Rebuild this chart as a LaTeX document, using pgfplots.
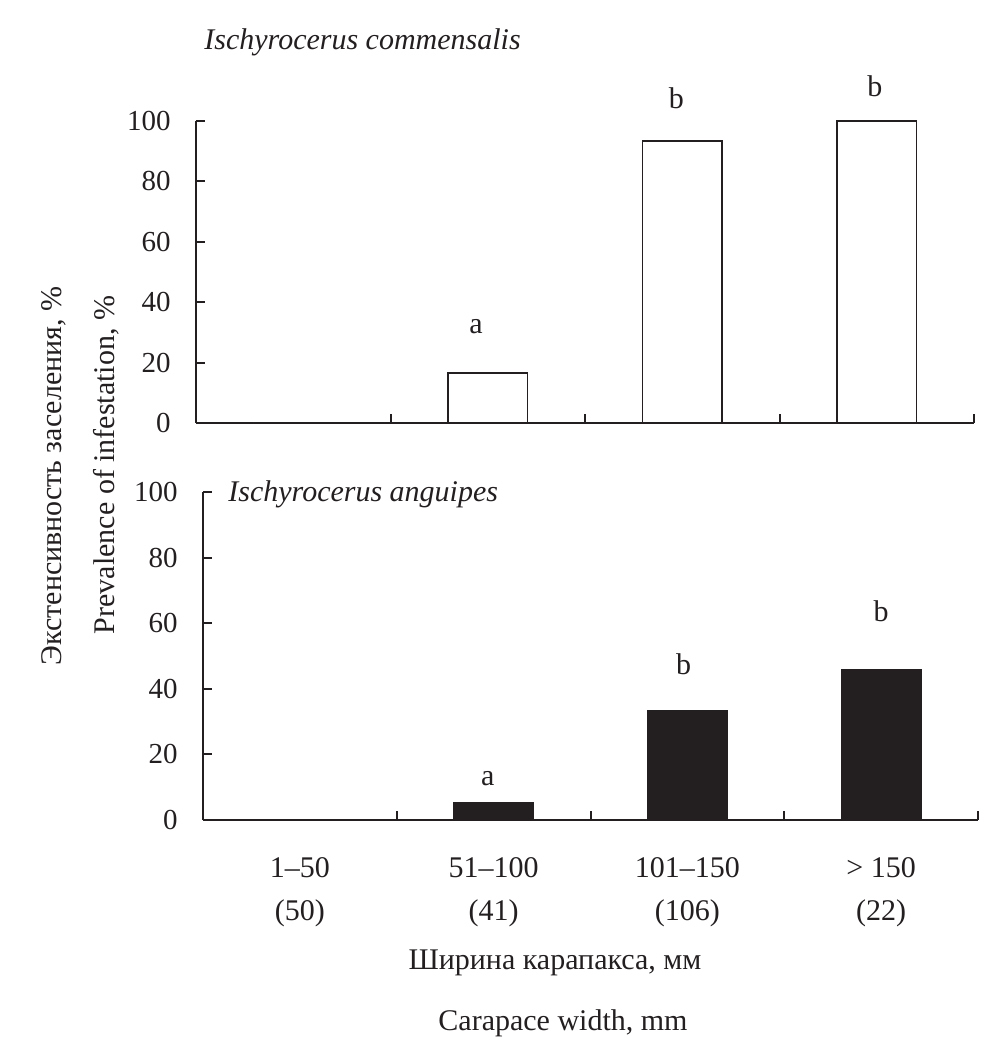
\documentclass[border=0pt]{standalone}
\usepackage{pgfplots}
\pgfplotsset{compat=1.18}
\usepackage{fontspec}
\setmainfont{Liberation Serif}
\definecolor{ink}{HTML}{231F20}
\begin{document}
\fontsize{15}{18}\selectfont
\begin{tikzpicture}
\useasboundingbox (0,0) rectangle (491pt,519.5pt);
\pgfplotsset{
 panel/.style={
  scale only axis, xmin=0, xmax=4, ymin=0, ymax=100,
  axis x line=bottom, axis y line=left,
  axis line style={-, ink, line width=1pt},
  ytick={0,20,...,100}, xtick={1,2,3,4}, xticklabels={},
  tick align=inside,
  major tick length=4.5pt,
  tick style={ink, line width=1pt},
  x tick style={yshift=4.5pt},
  /pgf/number format/assume math mode=true,
  ticklabel style={font=\fontsize{14.5}{17}\selectfont, text=ink},
  yticklabel style={xshift=-7.5pt},
  clip=false, ybar, bar width=0.41,
 }
}
% top panel
\begin{axis}[panel, width=389pt, height=151pt, at={(98pt,308pt)}, anchor=south west]
\addplot[draw=ink, fill=white, line width=0.8pt] coordinates {(0.5,0) (1.5,16.6) (2.5,93.4) (3.5,100)};
\node[text=ink] at (axis cs:1.44,31.8) {a};
\node[text=ink] at (axis cs:2.47,107.5) {b};
\node[text=ink] at (axis cs:3.49,111.5) {b};
\end{axis}
% bottom panel
\begin{axis}[panel, width=387.5pt, height=164pt, at={(101.5pt,109.5pt)}, anchor=south west,
  extra x ticks={0.5,1.5,2.5,3.5},
  extra x tick labels={{1–50\\(50)},{51–100\\(41)},{101–150\\(106)},{> 150\\(22)}},
  extra x tick style={major tick length=0pt,
    xticklabel style={align=center, font=\fontsize{15}{21.5}\selectfont, yshift=-13.5pt}}]
\addplot[draw=ink, fill=ink, line width=0.8pt] coordinates {(0.5,0) (1.5,5.2) (2.5,33.2) (3.5,45.7)};
\node[text=ink] at (axis cs:1.47,12.5) {a};
\node[text=ink] at (axis cs:2.48,47.5) {b};
\node[text=ink] at (axis cs:3.50,63.5) {b};
\end{axis}
% titles
\node[anchor=base west, text=ink, font=\itshape] at (97pt,494.5pt) {Ischyrocerus commensalis};
\node[anchor=base west, text=ink, font=\itshape] at (109pt,268.5pt) {Ischyrocerus anguipes};
% axis titles
\node[rotate=90, text=ink] at (27pt,281.5pt) {Экстенсивность заселения, \%};
\node[rotate=90, text=ink] at (53pt,287pt) {Prevalence of infestation, \%};
\node[anchor=base, text=ink] at (277.5pt,34.5pt) {Ширина карапакса, мм};
\node[anchor=base, text=ink] at (281.5pt,4.5pt) {Carapace width, mm};
\end{tikzpicture}
\end{document}
